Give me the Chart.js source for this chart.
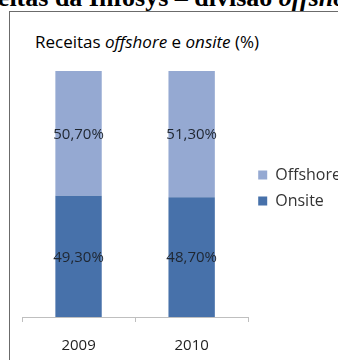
<!DOCTYPE html>
<html>
<head>
<meta charset="utf-8">
<script src="https://cdn.jsdelivr.net/npm/chart.js@4/dist/chart.umd.min.js"></script>
<style>
  html, body { margin: 0; padding: 0; background: #fff; }
  body { width: 338px; height: 360px; overflow: hidden; position: relative; }
  #head { position: absolute; left: -44px; top: -15px; white-space: nowrap;
          font: bold 26px/1 "Liberation Serif", serif; color: #000; }
  #box { position: absolute; left: 9px; top: 11px; width: 420px; height: 420px;
         border: 1.5px solid #6b6b6b; box-sizing: border-box; }
  #title { position: absolute; left: 35px; top: 33px; white-space: nowrap;
           font: 17px/1 "Open Sans", sans-serif; color: #000; }
  #wrap { position: absolute; left: 0; top: 0; width: 351px; height: 370px; }
</style>
</head>
<body>
<div id="head">Receitas da Infosys – divisão <i>offshore</i></div>
<div id="box"></div>
<div id="title">Receitas <i>offshore</i> e <i>onsite</i> (%)</div>
<div id="wrap"><canvas id="c"></canvas></div>
<script>
const years = ["2009", "2010"];
const onsite = [49.3, 48.7];
const offshore = [50.7, 51.3];

const FONT = "'Open Sans', sans-serif";
const fmt = v => v.toFixed(2).replace(".", ",") + "%";

// values printed in the middle of each segment
const segLabels = {
  id: "segLabels",
  afterDatasetsDraw(chart) {
    const ctx = chart.ctx;
    ctx.save();
    ctx.font = "15px " + FONT;
    ctx.fillStyle = "#1f2630";
    ctx.textAlign = "center";
    ctx.textBaseline = "middle";
    chart.data.datasets.forEach((ds, i) => {
      chart.getDatasetMeta(i).data.forEach((bar, j) => {
        ctx.fillText(fmt(ds.data[j]), bar.x, (bar.y + bar.base) / 2 + 1);
      });
    });
    ctx.restore();
  },
};

new Chart(document.getElementById("c"), {
  type: "bar",
  data: {
    labels: years,
    datasets: [
      { label: "Onsite", data: onsite, backgroundColor: "#4771aa" },
      { label: "Offshore", data: offshore, backgroundColor: "#95a9d2" },
    ],
  },
  options: {
    responsive: true, maintainAspectRatio: false, animation: false,
    layout: { padding: { left: 22, top: 71, right: 0, bottom: 0 } },
    datasets: { bar: { categoryPercentage: 1, barPercentage: 0.41 } },
    plugins: {
      legend: {
        position: "right", reverse: true, align: "start",
        // empty title only used to push the items down to mid-height
        title: { display: true, text: "", font: { size: 10 }, padding: { top: 74, bottom: 0 } },
        labels: { boxWidth: 9, boxHeight: 9, padding: 10, color: "#333", font: { family: FONT, size: 16 } },
      },
      tooltip: { enabled: false },
    },
    scales: {
      x: {
        stacked: true,
        grid: { drawOnChartArea: false, tickLength: 5, color: "#bfbfbf", offset: true },
        border: { color: "#bfbfbf" },
        ticks: { padding: 15, color: "#222", font: { family: FONT, size: 15 } },
      },
      y: { stacked: true, min: 0, max: 100, display: false },
    },
  },
  plugins: [segLabels],
});
</script>
</body>
</html>
